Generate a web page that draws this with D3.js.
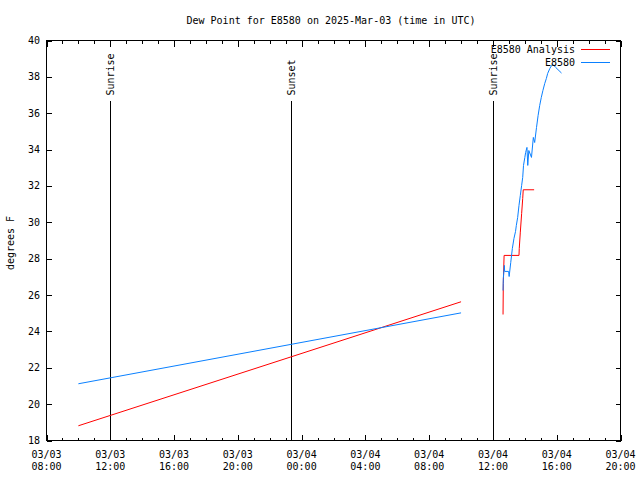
<!DOCTYPE html>
<html>
<head>
<meta charset="utf-8">
<script src="https://cdn.jsdelivr.net/npm/d3@7"></script>
<style>
  html, body { margin: 0; padding: 0; background: #fff; }
  svg text { font-family: "DejaVu Sans Mono", "Liberation Mono", monospace; font-size: 10px; fill: #000; }
</style>
</head>
<body>
<svg id="chart" width="640" height="480"></svg>
<script>
// ---------- data ----------
const titleText = "Dew Point for E8580 on 2025-Mar-03 (time in UTC)";
const yLabelText = "degrees F";
const xDomain = ["2025-03-03T08:00Z", "2025-03-04T20:00Z"];
const yDomain = [18, 40];
const yTickValues = [18, 20, 22, 24, 26, 28, 30, 32, 34, 36, 38, 40];

const seriesNames = ["E8580 Analysis", "E8580"];
const seriesColors = ["#ff0000", "#0a80ff"];

// E8580 Analysis (null = gap)
const analysisTimes = [
  "2025-03-03T10:00Z", "2025-03-04T10:00Z", null,
  "2025-03-04T12:38Z", "2025-03-04T12:39Z", "2025-03-04T12:42Z", "2025-03-04T13:38Z",
  "2025-03-04T13:39Z", "2025-03-04T13:43Z", "2025-03-04T13:48Z", "2025-03-04T13:52Z",
  "2025-03-04T13:54Z", "2025-03-04T14:35Z"
];
const analysisValues = [
  18.81, 25.63, null,
  24.93, 26.64, 28.18, 28.18,
  28.56, 29.46, 30.49, 31.31,
  31.79, 31.79
];

// E8580 observations (null = gap)
const obsTimes = [
  "2025-03-03T10:00Z", "2025-03-04T10:00Z", null,
  "2025-03-04T12:38Z", "2025-03-04T12:39Z", "2025-03-04T12:43Z", "2025-03-04T12:44Z",
  "2025-03-04T12:59Z", "2025-03-04T13:01Z", "2025-03-04T13:07Z", "2025-03-04T13:13Z",
  "2025-03-04T13:19Z", "2025-03-04T13:25Z", "2025-03-04T13:28Z", "2025-03-04T13:33Z",
  "2025-03-04T13:38Z", "2025-03-04T13:43Z", "2025-03-04T13:48Z", "2025-03-04T13:52Z",
  "2025-03-04T13:55Z", "2025-03-04T14:00Z", "2025-03-04T14:03Z", "2025-03-04T14:08Z",
  "2025-03-04T14:11Z", "2025-03-04T14:15Z", "2025-03-04T14:25Z", "2025-03-04T14:32Z",
  "2025-03-04T14:37Z", "2025-03-04T14:44Z", "2025-03-04T14:50Z", "2025-03-04T14:56Z",
  "2025-03-04T15:02Z", "2025-03-04T15:08Z", "2025-03-04T15:15Z", "2025-03-04T15:21Z",
  "2025-03-04T15:26Z", "2025-03-04T15:34Z", "2025-03-04T15:41Z", "2025-03-04T15:46Z",
  "2025-03-04T15:56Z", "2025-03-04T16:18Z"
];
const obsValues = [
  21.12, 25.02, null,
  26.25, 26.91, 27.63, 27.30,
  27.30, 27.02, 27.79, 28.56,
  29.11, 29.50, 29.83, 30.27,
  30.93, 31.48, 32.03, 32.47,
  33.13, 33.57, 33.84, 34.12,
  33.13, 33.95, 33.57, 34.67,
  34.39, 35.22, 35.88, 36.43,
  36.87, 37.25, 37.64, 37.91,
  38.19, 38.46, 38.63, 38.68,
  38.52, 38.21
];

// Sun events
const sunTimes = ["2025-03-03T12:00Z", "2025-03-03T23:21Z", "2025-03-04T12:01Z"];
const sunLabels = ["Sunrise", "Sunset", "Sunrise"];
const sunLineTopValue = 36.7;

// ---------- layout ----------
const svg = d3.select("#chart");
const L = 46.5, R = 620.5, T = 40.5, B = 440.5;
const parse = d => d == null ? null : new Date(d);

const x = d3.scaleUtc().domain(xDomain.map(parse)).range([L, R]);
const y = d3.scaleLinear().domain(yDomain).range([B, T]);

const majorTicks = d3.utcHour.every(4).range(parse(xDomain[0]), new Date(+parse(xDomain[1]) + 1));
const minorTicks = d3.utcHour.every(1).range(parse(xDomain[0]), new Date(+parse(xDomain[1]) + 1));

const axesG = svg.append("g").attr("shape-rendering", "crispEdges");

// minor x ticks bottom/top
axesG.append("g").attr("transform", `translate(0,${B})`)
  .call(d3.axisBottom(x).tickValues(minorTicks).tickSize(-3).tickFormat(""))
  .call(g => g.select(".domain").remove());
axesG.append("g").attr("transform", `translate(0,${T})`)
  .call(d3.axisTop(x).tickValues(minorTicks).tickSize(-3).tickFormat(""))
  .call(g => g.select(".domain").remove());
// major x ticks
axesG.append("g").attr("transform", `translate(0,${B})`)
  .call(d3.axisBottom(x).tickValues(majorTicks).tickSize(-6).tickFormat(""))
  .call(g => g.select(".domain").remove());
axesG.append("g").attr("transform", `translate(0,${T})`)
  .call(d3.axisTop(x).tickValues(majorTicks).tickSize(-6).tickFormat(""))
  .call(g => g.select(".domain").remove());
// y ticks
axesG.append("g").attr("transform", `translate(${L},0)`)
  .call(d3.axisLeft(y).tickValues(yTickValues).tickSize(-5).tickFormat(""))
  .call(g => g.select(".domain").remove());
axesG.append("g").attr("transform", `translate(${R},0)`)
  .call(d3.axisRight(y).tickValues(yTickValues).tickSize(-5).tickFormat(""))
  .call(g => g.select(".domain").remove());
axesG.selectAll(".tick line").attr("stroke", "#000");

// border
axesG.append("rect")
  .attr("x", L).attr("y", T).attr("width", R - L).attr("height", B - T)
  .attr("fill", "none").attr("stroke", "#000").attr("stroke-width", 1);

// x labels
const fmtDate = d3.utcFormat("%m/%d"), fmtTime = d3.utcFormat("%H:%M");
const xl = svg.append("g").selectAll("text").data(majorTicks).join("text")
  .attr("text-anchor", "middle")
  .attr("x", d => x(d));
xl.append("tspan").attr("x", d => x(d)).attr("y", 458).text(d => fmtDate(d));
xl.append("tspan").attr("x", d => x(d)).attr("y", 470).text(d => fmtTime(d));

// y labels
svg.append("g").selectAll("text").data(yTickValues).join("text")
  .attr("text-anchor", "end")
  .attr("x", 40)
  .attr("y", d => y(d) + 3.5)
  .text(d => d);

// title
svg.append("text").attr("x", 331).attr("y", 24).attr("text-anchor", "middle").text(titleText);
// y axis title
svg.append("text").attr("transform", "translate(14,243) rotate(-90)")
  .attr("text-anchor", "middle").text(yLabelText);

// sun event lines
const sunG = svg.append("g");
sunTimes.forEach((t, i) => {
  const px = Math.round(x(parse(t))) + 0.5;
  sunG.append("line")
    .attr("x1", px).attr("x2", px)
    .attr("y1", y(sunLineTopValue)).attr("y2", B)
    .attr("stroke", "#000").attr("stroke-width", 1)
    .attr("shape-rendering", "crispEdges");
  sunG.append("text")
    .attr("transform", `translate(${px + 3.5},${y(sunLineTopValue) - 5}) rotate(-90)`)
    .attr("text-anchor", "start")
    .text(sunLabels[i]);
});

// data lines
const line = d3.line()
  .defined(d => d.v != null)
  .x(d => x(d.t))
  .y(d => y(d.v));

const analysisData = analysisTimes.map((t, i) => ({ t: parse(t), v: analysisValues[i] }));
const obsData = obsTimes.map((t, i) => ({ t: parse(t), v: obsValues[i] }));

svg.append("path").datum(analysisData)
  .attr("d", line).attr("fill", "none")
  .attr("stroke", seriesColors[0]).attr("stroke-width", 1);
svg.append("path").datum(obsData)
  .attr("d", line).attr("fill", "none")
  .attr("stroke", seriesColors[1]).attr("stroke-width", 1);

// legend
const legendY = [49, 62];
const lg = svg.append("g");
seriesNames.forEach((name, i) => {
  lg.append("text").attr("x", 575).attr("y", legendY[i] + 3.5)
    .attr("text-anchor", "end").text(name);
  lg.append("line").attr("x1", 581).attr("x2", 610)
    .attr("y1", legendY[i] + 0.5).attr("y2", legendY[i] + 0.5)
    .attr("stroke", seriesColors[i]).attr("stroke-width", 1)
    .attr("shape-rendering", "crispEdges");
});
</script>
</body>
</html>
